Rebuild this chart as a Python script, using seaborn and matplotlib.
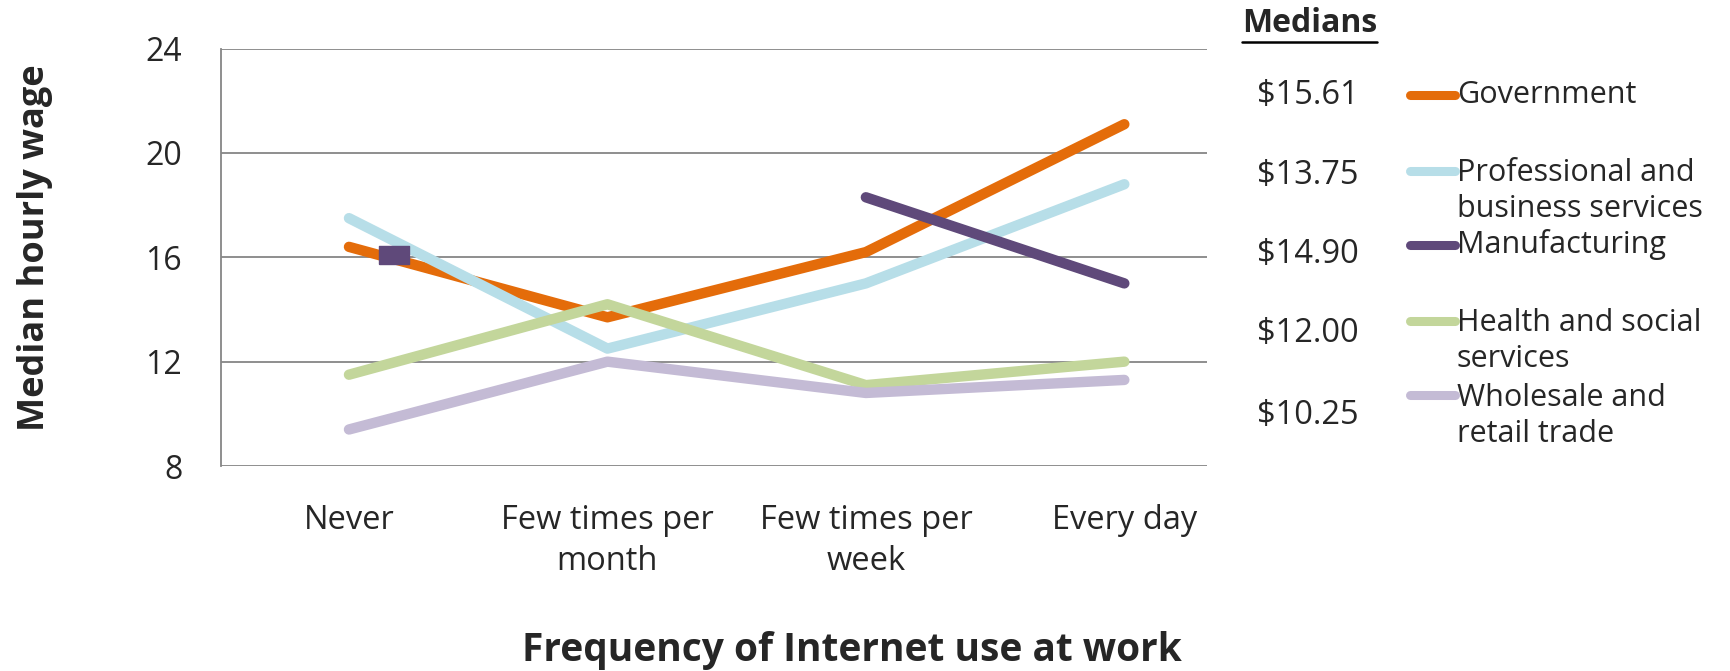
import numpy as np
import pandas as pd
import matplotlib.pyplot as plt
import seaborn as sns
from matplotlib.lines import Line2D
from matplotlib.transforms import offset_copy

# --- data ---
categories = ['Never', 'Few times per\nmonth', 'Few times per\nweek', 'Every day']
sectors = ['Government', 'Professional and\nbusiness services', 'Manufacturing',
           'Health and social\nservices', 'Wholesale and\nretail trade']
government = [16.4, 13.7, 16.2, 21.1]
professional = [17.5, 12.5, 15.0, 18.8]
manufacturing = [np.nan, np.nan, 18.3, 15.0]
health = [11.5, 14.2, 11.1, 12.0]
wholesale = [9.4, 12.0, 10.8, 11.3]
manufacturing_never = 16.1   # lone square marker near "Never"
medians = ['$15.61', '$13.75', '$14.90', '$12.00', '$10.25']
y_ticks = [8, 12, 16, 20, 24]
colors = ['#E46C0A', '#B7DEE8', '#5F497A', '#C3D69B', '#C4BBD5']


def main():
    series = [government, professional, manufacturing, health, wholesale]
    rows = []
    for name, vals in zip(sectors, series):
        for i, v in enumerate(vals):
            if not np.isnan(v):
                rows.append({'sector': name, 'pos': i, 'wage': v})
    df = pd.DataFrame(rows)

    sns.set_style('white')
    plt.rcParams['font.family'] = ['Open Sans', 'DejaVu Sans']

    fig = plt.figure(figsize=(17.31, 6.71), dpi=100)
    ax = fig.add_axes([0.1277, 0.3055, 0.5696, 0.6221])

    palette = dict(zip(sectors, colors))
    sns.lineplot(data=df, x='pos', y='wage', hue='sector', palette=palette,
                 hue_order=sectors, linewidth=7.5, legend=False, sort=False, ax=ax)
    for line in ax.lines:
        line.set_solid_capstyle('round')
        line.set_solid_joinstyle('round')

    # isolated manufacturing point drawn as square marker, shifted right like the original
    marker_tr = offset_copy(ax.transData, fig=fig, x=45, y=0, units='dots')
    rect = [(-1, -0.6), (1, -0.6), (1, 0.6), (-1, 0.6), (-1, -0.6)]
    ax.plot([0], [manufacturing_never], marker=rect, markersize=22, color=colors[2],
            linestyle='none', transform=marker_tr)

    ax.set_ylim(8, 24)
    ax.set_xlim(-0.495, 3.32)
    ax.set_yticks(y_ticks)
    ax.set_xticks(range(len(categories)))
    ax.set_xticklabels(categories, fontsize=23.5, linespacing=1.35)
    ax.tick_params(axis='x', length=0, pad=27)
    ax.tick_params(axis='y', labelsize=23, length=7, width=1.2, color='#868686', pad=21)
    ax.yaxis.grid(True, color='#868686', linewidth=1.3)
    ax.set_axisbelow(True)
    for s in ['top', 'right', 'bottom']:
        ax.spines[s].set_visible(False)
    ax.spines['left'].set_color('#868686')
    ax.spines['left'].set_linewidth(1.3)
    ax.set_xlabel('')
    ax.set_ylabel('')

    fig.text(35 / 1731, 1 - 248 / 671, 'Median hourly wage', rotation=90,
             ha='center', va='center', fontsize=26, fontweight='bold')
    fig.text(852 / 1731, 1 - 651 / 671, 'Frequency of Internet use at work',
             ha='center', va='center', fontsize=28, fontweight='bold')

    # --- legend with medians ---
    title = fig.text(1242 / 1731, 1 - 24 / 671, 'Medians', ha='left', va='center',
                     fontsize=23, fontweight='bold')
    fig.canvas.draw()
    bb = title.get_window_extent().transformed(fig.transFigure.inverted())
    fig.add_artist(Line2D([bb.x0, bb.x1], [1 - 42 / 671, 1 - 42 / 671],
                          color='black', linewidth=1.8, transform=fig.transFigure))

    median_y = [96, 175, 254, 334, 416]
    key_y = [95, 171, 245, 321, 395]
    label_y = [95, 191, 245, 341, 416]
    for i in range(len(sectors)):
        fig.text(1257 / 1731, 1 - median_y[i] / 671, medians[i], ha='left', va='center',
                 fontsize=23.5)
        fig.add_artist(Line2D([1410 / 1731, 1455 / 1731],
                              [1 - key_y[i] / 671, 1 - key_y[i] / 671],
                              color=colors[i], linewidth=6.5, solid_capstyle='round',
                              transform=fig.transFigure))
        fig.text(1457 / 1731, 1 - label_y[i] / 671, sectors[i], ha='left', va='center',
                 fontsize=22, linespacing=1.3)

    fig.savefig('out.png', dpi=100)
    plt.close(fig)


if __name__ == '__main__':
    main()
